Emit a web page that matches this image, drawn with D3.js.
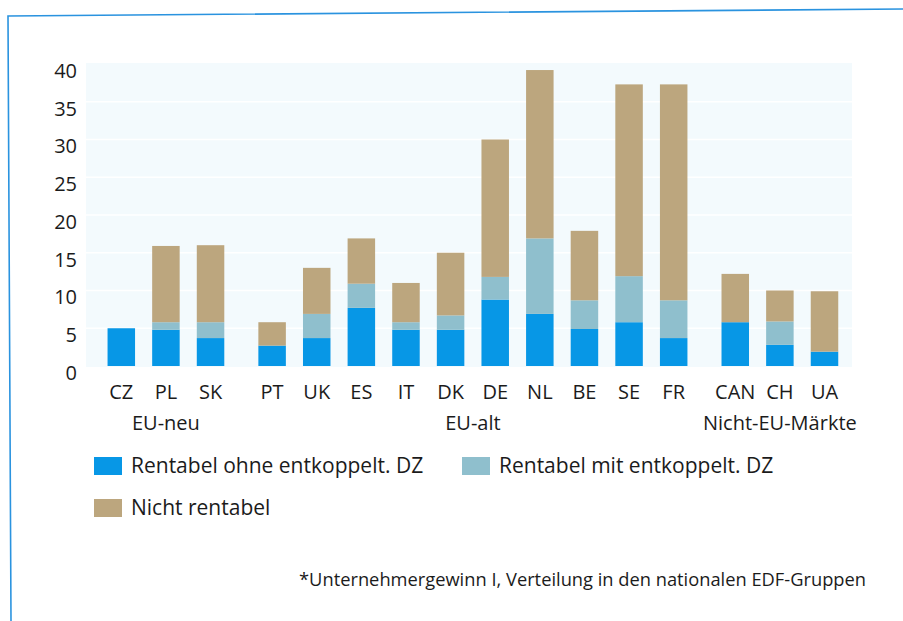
<!DOCTYPE html>
<html>
<head>
<meta charset="utf-8">
<script src="https://cdn.jsdelivr.net/npm/d3@7"></script>
<style>
  body { margin: 0; background: #fff; }
  svg { display: block; }
  text { font-family: "Open Sans", "Noto Sans", sans-serif; fill: #1b1b1b; }
</style>
</head>
<body>
<svg width="903" height="621"></svg>
<script>
// countries and the group each one belongs to
var categories = ["CZ", "PL", "SK", "PT", "UK", "ES", "IT", "DK", "DE", "NL", "BE", "SE", "FR", "CAN", "CH", "UA"];
var groupOf = [0, 0, 0, 1, 1, 1, 1, 1, 1, 1, 1, 1, 1, 2, 2, 2];
var groupNames = ["EU-neu", "EU-alt", "Nicht-EU-Märkte"];

// stacked segments
var ohneDZ = [5.0, 4.8, 3.7, 2.7, 3.7, 7.7, 4.8, 4.8, 8.8, 6.9, 4.9, 5.8, 3.7, 5.8, 2.8, 1.9];
var mitDZ = [0, 1.0, 2.1, 0, 3.2, 3.2, 1.0, 1.9, 3.0, 10.0, 3.8, 6.1, 5.0, 0, 3.1, 0];
var nichtRentabel = [0, 10.1, 10.2, 3.1, 6.1, 6.0, 5.2, 8.3, 18.2, 22.3, 9.2, 25.4, 28.6, 6.4, 4.1, 8.0];

var seriesNames = ["Rentabel ohne entkoppelt. DZ", "Rentabel mit entkoppelt. DZ", "Nicht rentabel"];
var seriesColors = ["#0797e6", "#8fbfcd", "#bca67e"];
var yTicks = [0, 5, 10, 15, 20, 25, 30, 35, 40];
var footnote = "*Unternehmergewinn I, Verteilung in den nationalen EDF-Gruppen";

var svg = d3.select("svg");

// frame (blue rule top and left)
svg.append("path")
    .attr("d", "M11,621 L8,16 L903,9")
    .attr("fill", "none")
    .attr("stroke", "#2a93df")
    .attr("stroke-width", 1.6);

var groupGap = 0.38;
var slots = categories.map(function(d, i) { return i + groupOf[i] * groupGap; });

var x = d3.scaleLinear()
    .domain([0, d3.max(slots)])
    .range([121.3, 824.5]);
var barW = 27.5;

var y = d3.scaleLinear()
    .domain([0, 40])
    .range([366, 64]);

// plot background + faint white grid
svg.append("rect")
    .attr("x", 86).attr("y", y(40) - 1)
    .attr("width", 852 - 86).attr("height", y(0) - y(40) + 2)
    .attr("fill", "#f3fafd");

svg.append("g").selectAll("line")
    .data(yTicks.slice(1, -1))
    .enter().append("line")
    .attr("x1", 86).attr("x2", 852)
    .attr("y1", function(d) { return y(d); })
    .attr("y2", function(d) { return y(d); })
    .attr("stroke", "#fff")
    .attr("stroke-width", 1.5);

// y axis labels only, no line
var yAxis = svg.append("g")
    .attr("transform", "translate(77,7)")
    .call(d3.axisLeft(y).tickValues(yTicks).tickSize(0).tickPadding(0));
yAxis.select(".domain").remove();
yAxis.selectAll("text")
    .style("font-size", "20px")
    .style("fill", "#1b1b1b")
    .style("font-family", "\"Open Sans\", sans-serif");

// stack the three series
var rows = categories.map(function(c, i) {
    return { cat: c, slot: slots[i], a: ohneDZ[i], b: mitDZ[i], c: nichtRentabel[i] };
});
var stack = d3.stack().keys(["a", "b", "c"]);
var layers = stack(rows);

svg.append("g").selectAll("g")
    .data(layers)
    .enter().append("g")
    .attr("fill", function(d, i) { return seriesColors[i]; })
    .selectAll("rect")
    .data(function(d) { return d; })
    .enter().append("rect")
    .attr("x", function(d) { return x(d.data.slot) - barW / 2; })
    .attr("width", barW)
    .attr("y", function(d) { return y(d[1]); })
    .attr("height", function(d) { return y(d[0]) - y(d[1]); });

// country labels
svg.append("g").selectAll("text")
    .data(rows)
    .enter().append("text")
    .attr("x", function(d) { return x(d.slot); })
    .attr("y", 399)
    .attr("text-anchor", "middle")
    .style("font-size", "20px")
    .text(function(d) { return d.cat; });

// group labels centred under each group
svg.append("g").selectAll("text")
    .data(groupNames)
    .enter().append("text")
    .attr("x", function(g, gi) {
        var s = slots.filter(function(d, i) { return groupOf[i] === gi; });
        return (x(d3.min(s)) + x(d3.max(s))) / 2;
    })
    .attr("y", 430)
    .attr("text-anchor", "middle")
    .style("font-size", "20px")
    .text(function(d) { return d; });

// legend
var legendPos = [[94, 457], [462, 457], [94, 499]];
var legend = svg.append("g").selectAll("g")
    .data(seriesNames)
    .enter().append("g")
    .attr("transform", function(d, i) { return "translate(" + legendPos[i][0] + "," + legendPos[i][1] + ")"; });
legend.append("rect")
    .attr("width", 28).attr("height", 18)
    .attr("fill", function(d, i) { return seriesColors[i]; });
legend.append("text")
    .attr("x", 37).attr("y", 16)
    .style("font-size", "21px")
    .text(function(d) { return d; });

svg.append("text")
    .attr("x", 866).attr("y", 586)
    .attr("text-anchor", "end")
    .style("font-size", "18.3px")
    .text(footnote);
</script>
</body>
</html>
